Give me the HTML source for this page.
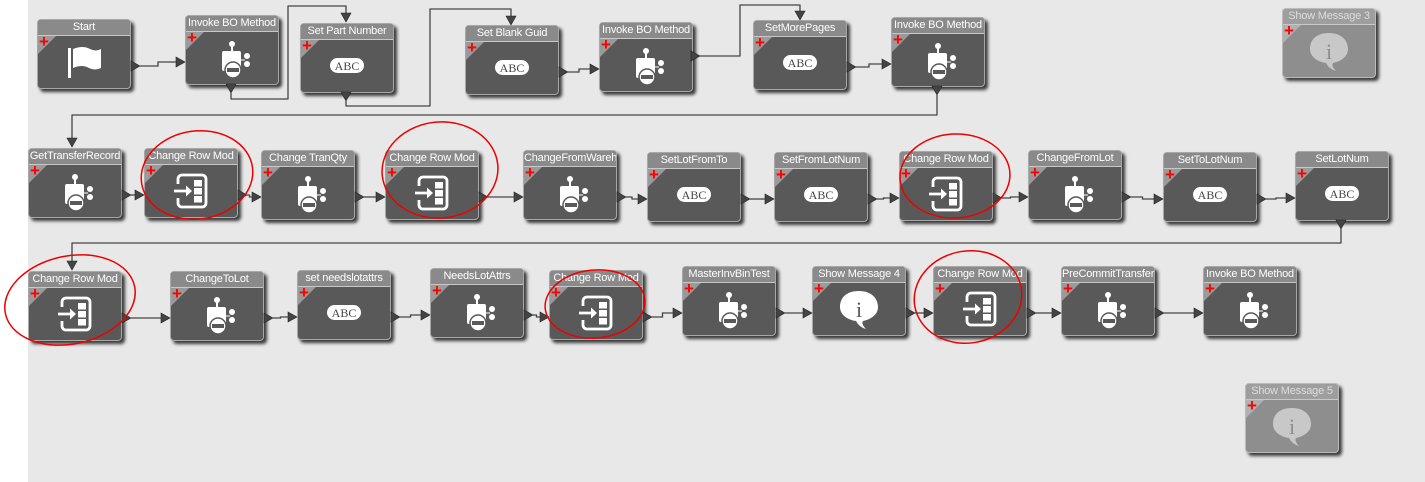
<!DOCTYPE html>
<html><head><meta charset="utf-8"><style>
body{margin:0;width:1425px;height:482px;overflow:hidden;background:#fff;font-family:"Liberation Sans",sans-serif;}
#bg{position:absolute;left:28px;top:0;width:1397px;height:482px;background:#e8e8e8;}
.n{position:absolute;width:92px;height:68px;background:#595959;border:1px solid #a8a8a8;border-radius:4px;box-shadow:3px 3px 3px #3a3a3a;overflow:hidden;}
.n .h{height:15px;background:#8a8a8a;border-bottom:1px solid #c8c8c8;color:#fff;font-size:11px;letter-spacing:-0.2px;line-height:15px;text-align:center;white-space:nowrap;overflow:hidden;}
.n .t{position:absolute;left:0;top:16px;width:0;height:0;border-top:18px solid #9a9a9a;border-right:18px solid transparent;}
.n .p{position:absolute;left:1px;top:15px;color:#f00;font-size:17px;font-weight:bold;line-height:14px;}
.n.f{background:#8e8e8e;border-color:#bbb;}
.n.f .h{background:#9e9e9e;color:#ddd;}
.n.f .t{border-top-color:#b0b0b0;}
.ic{position:absolute;left:0;top:16px;width:92px;height:52px;}
</style></head><body>
<div id="bg"></div>
<div id="nodes"></div>
<svg id="sv" width="1425" height="482" style="position:absolute;left:0;top:0"></svg>
<script>
var N=[
["Start",37,19,"flag"],["Invoke BO Method",185,15,"bo"],["Set Part Number",300,23,"abc"],["Set Blank Guid",465,25,"abc"],["Invoke BO Method",599,22,"bo"],["SetMorePages",753,20,"abc"],["Invoke BO Method",891,17,"bo"],["Show Message 3",1282,8,"info",1],
["GetTransferRecord",28,148,"bo"],["Change Row Mod",144,148,"row"],["Change TranQty",261,150,"bo"],["Change Row Mod",385,150,"row"],["ChangeFromWareh",523,150,"bo"],["SetLotFromTo",647,152,"abc"],["SetFromLotNum",774,152,"abc"],["Change Row Mod",899,151,"row"],["ChangeFromLot",1028,150,"bo"],["SetToLotNum",1163,152,"abc"],["SetLotNum",1295,151,"abc"],
["Change Row Mod",28,271,"row"],["ChangeToLot",170,271,"bo"],["set needslotattrs",297,270,"abc"],["NeedsLotAttrs",430,268,"bo"],["Change Row Mod",549,270,"row"],["MasterInvBinTest",682,266,"bo"],["Show Message 4",812,266,"info"],["Change Row Mod",933,266,"row"],["PreCommitTransfer",1061,266,"bo"],["Invoke BO Method",1203,266,"bo"],["Show Message 5",1245,383,"info",1]];
var I={
flag:'<rect x="30" y="12" width="3" height="30" fill="#fff"/><path d="M35 13 Q45 9 52 13 Q58 16 63 13 L63 32 Q57 35 51 32 Q44 28 35 32Z" fill="#fff"/>',
abc:'<rect x="29" y="18" width="34" height="15" rx="7.5" fill="#fff"/><text x="46" y="30" text-anchor="middle" font-family="Liberation Serif,serif" font-size="12" fill="#444">ABC</text>',
bo:'<circle cx="46" cy="12" r="3" fill="#fff"/><rect x="45" y="14" width="2" height="5" fill="#fff"/><rect x="36" y="19" width="19" height="20" rx="2" fill="#fff"/><circle cx="47" cy="38" r="8" fill="#fff" stroke="#595959" stroke-width="1.5"/><rect x="41" y="36" width="12" height="4" fill="#595959"/><line x1="55" y1="28" x2="59" y2="28" stroke="#fff"/><circle cx="61" cy="24" r="3" fill="#fff"/><circle cx="61" cy="32" r="3" fill="#fff"/>',
row:'<rect x="33" y="10" width="28" height="32" rx="4" fill="none" stroke="#fff" stroke-width="2.8"/><rect x="49" y="15" width="8" height="6.5" fill="#fff"/><rect x="49" y="23" width="8" height="6.5" fill="#fff"/><rect x="49" y="31" width="8" height="6.5" fill="#fff"/><rect x="29" y="19" width="7" height="14" fill="#595959"/><line x1="29" y1="26" x2="43" y2="26" stroke="#fff" stroke-width="2.8"/><path d="M41 20.5 L47 26 L41 31.5Z" fill="#fff"/>',
info:'<path d="M46 8 C32 8 27 16 27 24 C27 32 35 37 43 38 Q46 44 53 46 Q48 41 50 38 C59 36 65 31 65 24 C65 16 59 8 46 8Z" fill="#fff"/><text x="46" y="34" text-anchor="middle" font-family="Liberation Serif,serif" font-size="22" fill="#595959">i</text>'};
var h='';
N.forEach(function(n){var f=n[4];var ic=I[n[3]];if(f)ic=ic.replace(/#fff/g,'#c8c8c8').replace(/#595959/g,'#8e8e8e');
h+='<div class="n'+(f?' f':'')+'" style="left:'+n[1]+'px;top:'+n[2]+'px"><div class="h">'+n[0]+'</div><div class="t"></div><div class="p">+</div><svg class="ic" viewBox="0 0 92 52">'+ic+'</svg></div>';});
document.getElementById('nodes').innerHTML=h;
var s='';
function tri(x,y,dir){if(dir=='r')return '<path d="M'+x+' '+(y-5)+' L'+(x+9)+' '+y+' L'+x+' '+(y+5)+'Z" fill="#444" stroke="#222" stroke-width="0.6"/>';
return '<path d="M'+(x-5)+' '+y+' L'+(x+5)+' '+y+' L'+x+' '+(y+9)+'Z" fill="#444" stroke="#222" stroke-width="0.6"/>';}
function link(a,b){var A=N[a],B=N[b];var x1=A[1]+94,y1=A[2]+47,x2=B[1]-9,y2=B[2]+47;
s+=tri(x1,y1,'r')+tri(x2,y2,'r');var m=(x1+9+x2)/2;
s+='<path d="M'+(x1+9)+' '+y1+' L'+m+' '+y1+' L'+m+' '+y2+' L'+x2+' '+y2+'" fill="none" stroke="#444" stroke-width="1.3"/>';}
[[0,1],[3,4],[5,6],[8,9],[9,10],[10,11],[11,12],[12,13],[13,14],[14,15],[15,16],[16,17],[17,18],[19,20],[20,21],[21,22],[22,23],[23,24],[24,25],[25,26],[26,27],[27,28]].forEach(function(p){link(p[0],p[1]);});
function poly(pts){s+='<path d="M'+pts.join(' L')+'" fill="none" stroke="#444" stroke-width="1.3" stroke-linejoin="round"/>';}
s+=tri(231,84,'d');poly(['231,93','231,99','288,99','288,6','346,6','346,13']);s+=tri(346,13,'d');
s+=tri(346,92,'d');poly(['346,101','346,106','430,106','430,9','511,9','511,16']);s+=tri(511,16,'d');
s+=tri(691,56,'r');poly(['700,56','740,56','740,5','800,5','800,11']);s+=tri(800,11,'d');
s+=tri(937,86,'d');poly(['937,95','937,115','72,115','72,138']);s+=tri(72,138,'d');
s+=tri(1341,220,'d');poly(['1341,229','1341,243','72,243','72,261']);s+=tri(72,261,'d');
function ell(cx,cy,rx,ry,r){s+='<ellipse cx="'+cx+'" cy="'+cy+'" rx="'+rx+'" ry="'+ry+'" transform="rotate('+r+' '+cx+' '+cy+')" fill="none" stroke="#e00" stroke-width="1.5"/>';}
ell(197,175,56,44,-8);ell(440,170,58,48,-5);ell(955,176,55,42,-3);ell(70,300,66,44,-12);ell(595,304,50,34,-5);ell(968,297,54,46,-10);
document.getElementById('sv').innerHTML=s;
</script>
</body></html>
